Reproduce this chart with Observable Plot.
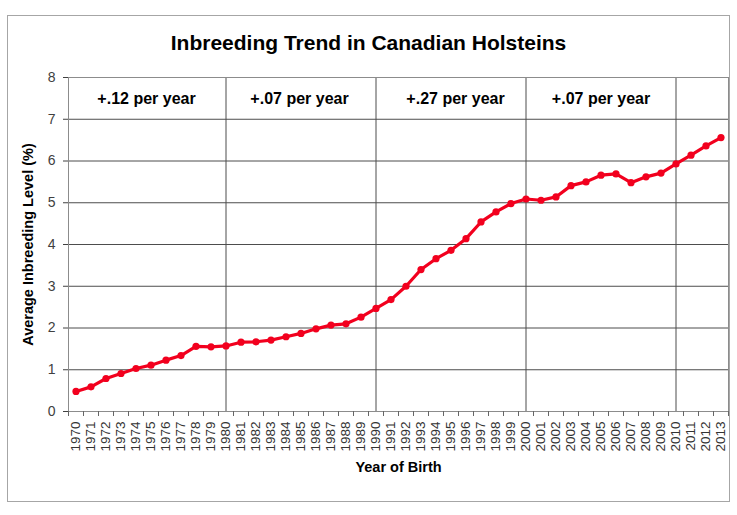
<!DOCTYPE html>
<html>
<head>
<meta charset="utf-8">
<script src="https://cdn.jsdelivr.net/npm/d3@7"></script>
<script src="https://cdn.jsdelivr.net/npm/@observablehq/plot@0.6"></script>
<style>
  html, body { margin: 0; padding: 0; background: #fff; }
  #wrap { position: relative; width: 737px; height: 515px; font-family: "Liberation Sans", Arial, sans-serif; }
  #frame { position: absolute; left: 7px; top: 15px; width: 723px; height: 487px; border: 1px solid #a6a6a6; box-sizing: border-box; pointer-events: none; }
  #title { position: absolute; left: 0; top: 0; width: 737px; height: 60px; text-align: center; font-weight: bold; font-size: 21px; line-height: 60px; padding-top: 13px; box-sizing: border-box; color: #000; }
  #chart { position: absolute; left: 0; top: 60px; }
</style>
</head>
<body>
<div id="wrap">
  <div id="title">Inbreeding Trend in Canadian Holsteins</div>
  <div id="chart"></div>
  <div id="frame"></div>
</div>
<script>
const years = [1970,1971,1972,1973,1974,1975,1976,1977,1978,1979,
  1980,1981,1982,1983,1984,1985,1986,1987,1988,1989,
  1990,1991,1992,1993,1994,1995,1996,1997,1998,1999,
  2000,2001,2002,2003,2004,2005,2006,2007,2008,2009,
  2010,2011,2012,2013];
const inbreeding = [0.48,0.59,0.79,0.91,1.03,1.11,1.23,1.34,1.56,1.55,
  1.57,1.66,1.67,1.71,1.79,1.87,1.98,2.07,2.10,2.26,
  2.47,2.68,3.00,3.40,3.66,3.86,4.14,4.54,4.78,4.98,
  5.09,5.06,5.14,5.41,5.50,5.66,5.69,5.48,5.62,5.71,
  5.93,6.14,6.36,6.56];
const dividers = [1980, 1990, 2000, 2010];
const periodLabels = ["+.12 per year", "+.07 per year", "+.27 per year", "+.07 per year"];
const periodCenters = [1974.7, 1984.9, 1995.3, 2005.0];
const periodLevel = 7.5;
const yTicks = [0,1,2,3,4,5,6,7,8];

const data = years.map((y, i) => ({year: y, value: inbreeding[i]}));
const periods = periodLabels.map((t, i) => ({label: t, x: periodCenters[i], y: periodLevel}));
const boundaries = years.map(y => y - 0.5).concat([years[years.length - 1] + 0.5]);

const red = "#f2001e";
const chart = Plot.plot({
  width: 737,
  height: 455,
  marginTop: 17,
  marginLeft: 68,
  marginRight: 9,
  marginBottom: 104,
  style: {fontFamily: "Liberation Sans, Arial, sans-serif", background: "transparent", color: "#000"},
  x: {type: "linear", domain: [years[0] - 0.5, years[years.length - 1] + 0.5]},
  y: {domain: [0, 8]},
  marks: [
    Plot.ruleY(yTicks, {stroke: "#4d4d4d", strokeWidth: 1}),
    Plot.ruleX(dividers, {stroke: "#4d4d4d", strokeWidth: 1}),
    Plot.frame({stroke: "#8c8c8c", strokeWidth: 1}),
    Plot.axisY({ticks: yTicks, tickSize: 5, tickPadding: 8, fontSize: 14, label: null, tickFormat: d => String(d), color: "#404040"}),
    Plot.axisX({ticks: boundaries, tickSize: 5, tickFormat: () => "", label: null, stroke: "#666"}),
    Plot.axisX({ticks: years, tickSize: 0, tickPadding: 10, tickRotate: -90, fontSize: 13.5, tickFormat: d => String(d), label: null, color: "#333"}),
    Plot.text(["Average Inbreeding Level (%)"], {frameAnchor: "left", textAnchor: "middle", dx: -40, rotate: -90, fontWeight: "bold", fontSize: 14.5}),
    Plot.text(["Year of Birth"], {frameAnchor: "bottom", dy: 60, fontWeight: "bold", fontSize: 14.5}),
    Plot.text(periods, {x: "x", y: "y", text: "label", fontWeight: "bold", fontSize: 16}),
    Plot.line(data, {x: "year", y: "value", stroke: red, strokeWidth: 3.2}),
    Plot.dot(data, {x: "year", y: "value", fill: red, r: 3.6})
  ]
});
document.getElementById("chart").appendChild(chart);
</script>
</body>
</html>
